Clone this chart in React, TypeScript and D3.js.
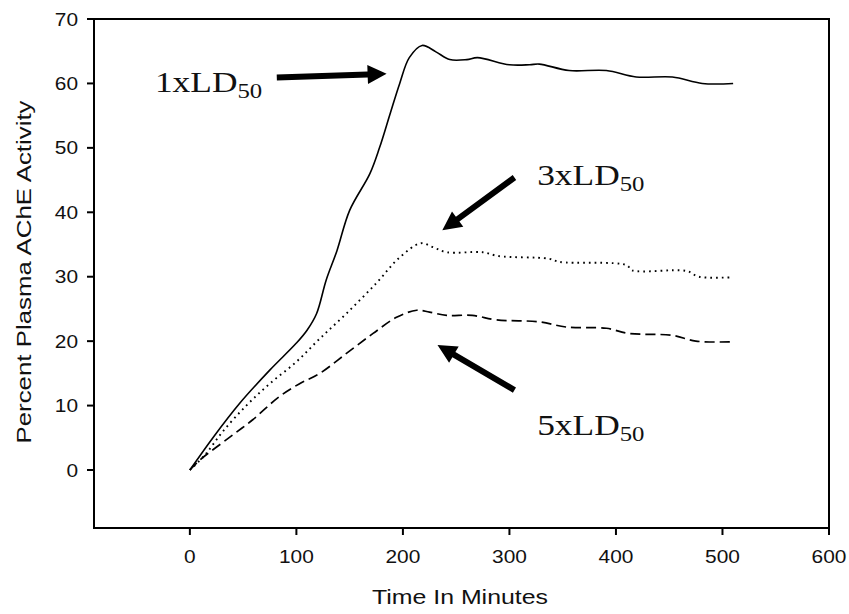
import React from "react";
import * as d3 from "d3";

const xTicks = [0, 100, 200, 300, 400, 500, 600];
const yTicks = [0, 10, 20, 30, 40, 50, 60, 70];

const ld1X = [0, 22, 47, 75, 100, 110, 119, 128, 138, 150, 169, 178, 188, 197, 206, 218, 231, 244, 260, 270, 300, 319, 328, 356, 391, 419, 453, 481, 510];
const ld1Y = [0, 5.1, 10.4, 15.5, 19.7, 21.7, 24.3, 29.5, 34, 40.3, 46, 50, 55.3, 60, 64, 65.9, 64.9, 63.7, 63.7, 64, 62.9, 62.9, 63, 62, 62, 61, 61, 60, 60];

const ld3X = [0, 14, 31, 53, 75, 100, 122, 147, 175, 197, 217, 228, 241, 275, 290, 337, 347, 410, 415, 466, 478, 508];
const ld3Y = [0, 2.3, 6.0, 10.0, 13.4, 16.8, 20.4, 24.3, 29, 33, 35.2, 34.6, 33.8, 33.8, 33.2, 32.8, 32.3, 31.8, 31, 30.9, 30, 29.9];

const ld5X = [0, 9, 37.5, 59, 84, 103, 122, 147, 172, 194, 213, 225, 241, 265, 288, 328, 353, 391, 412, 453, 475, 509];
const ld5Y = [0, 1.5, 5.1, 7.8, 11.4, 13.4, 15, 18.1, 21.2, 23.7, 24.8, 24.5, 24, 24, 23.3, 23, 22.2, 22, 21.2, 20.9, 20, 19.9];

// arrows: [tailX, tailY, tipX, tipY] in data units
const arrows = [
  [81.6, 60.9, 184.7, 61.5],
  [304.7, 45.4, 237, 37.2],
  [304.7, 12.4, 232.5, 19.4],
];
const labelNames = ["1xLD", "3xLD", "5xLD"];
const labelX = [-32.8, 326, 326];
const labelY = [58.6, 44.2, 5.4];

const W = 849, H = 614;
const left = 94, right = 829, top = 19, bottom = 528;
const SX = 1.16;

export default function App() {
  const x = d3.scaleLinear().domain([-90, 600]).range([left, right]);
  const y = d3.scaleLinear().domain([-9, 70]).range([bottom, top]);
  const line = d3
    .line<[number, number]>()
    .x((d) => x(d[0]))
    .y((d) => y(d[1]))
    .curve(d3.curveCatmullRom.alpha(0.5));
  const mk = (xs: number[], ys: number[]) => line(xs.map((v, i) => [v, ys[i]] as [number, number])) || "";

  const arrowPath = (a: number[]) => {
    const x0 = x(a[0]), y0 = y(a[1]), x1 = x(a[2]), y1 = y(a[3]);
    const dx = x1 - x0, dy = y1 - y0;
    const L = Math.hypot(dx, dy);
    const ux = dx / L, uy = dy / L;
    const px = -uy, py = ux;
    const sw = 3, hw = 9.5, hl = 19;
    const bx = x1 - ux * hl, by = y1 - uy * hl;
    const pts = [
      [x0 + px * sw, y0 + py * sw],
      [bx + px * sw, by + py * sw],
      [bx + px * hw, by + py * hw],
      [x1, y1],
      [bx - px * hw, by - py * hw],
      [bx - px * sw, by - py * sw],
      [x0 - px * sw, y0 - py * sw],
    ];
    return "M" + pts.map((p) => p[0].toFixed(1) + "," + p[1].toFixed(1)).join("L") + "Z";
  };

  const sans = "'Liberation Sans', Arial, sans-serif";
  const serif = "'Liberation Serif', 'Times New Roman', serif";

  return (
    <svg width={W} height={H} style={{ position: "absolute", left: 0, top: 0, background: "#fff" }}>
      <rect x={0} y={0} width={W} height={H} fill="#fff" />
      <rect x={left} y={top} width={right - left} height={bottom - top} fill="none" stroke="#000" strokeWidth={2} />
      {xTicks.map((t) => (
        <g key={"xt" + t}>
          <line x1={x(t)} x2={x(t)} y1={bottom} y2={bottom + 7} stroke="#000" strokeWidth={2} />
          <text
            transform={`translate(${x(t)},563) scale(${SX},1)`}
            textAnchor="middle"
            fontFamily={sans}
            fontSize={18}
            fill="#111"
          >
            {t}
          </text>
        </g>
      ))}
      {yTicks.map((t) => (
        <g key={"yt" + t}>
          <line x1={left - 7} x2={left} y1={y(t)} y2={y(t)} stroke="#000" strokeWidth={2} />
          <text
            transform={`translate(78,${y(t) + 6.5}) scale(${SX},1)`}
            textAnchor="end"
            fontFamily={sans}
            fontSize={18}
            fill="#111"
          >
            {t}
          </text>
        </g>
      ))}
      <text
        x={460}
        y={604}
        textAnchor="middle"
        fontFamily={sans}
        fontSize={21}
        fill="#111"
        textLength={176}
        lengthAdjust="spacingAndGlyphs"
      >
        Time In Minutes
      </text>
      <text
        transform={`translate(31,272) rotate(-90)`}
        textAnchor="middle"
        fontFamily={sans}
        fontSize={21}
        fill="#111"
        textLength={343}
        lengthAdjust="spacingAndGlyphs"
      >
        Percent Plasma AChE Activity
      </text>
      <path d={mk(ld1X, ld1Y)} fill="none" stroke="#000" strokeWidth={1.6} />
      <path d={mk(ld3X, ld3Y)} fill="none" stroke="#000" strokeWidth={1.9} strokeDasharray="1.7,4" />
      <path d={mk(ld5X, ld5Y)} fill="none" stroke="#000" strokeWidth={1.7} strokeDasharray="10,5" />
      {arrows.map((a, i) => (
        <path key={"ar" + i} d={arrowPath(a)} fill="#000" />
      ))}
      {labelNames.map((n, i) => (
        <text
          key={"lb" + i}
          transform={`translate(${x(labelX[i])},${y(labelY[i])}) scale(1.18,1)`}
          fontFamily={serif}
          fontSize={30}
          fill="#111"
        >
          {n}
          <tspan fontSize={21} dy={6}>
            50
          </tspan>
        </text>
      ))}
    </svg>
  );
}
